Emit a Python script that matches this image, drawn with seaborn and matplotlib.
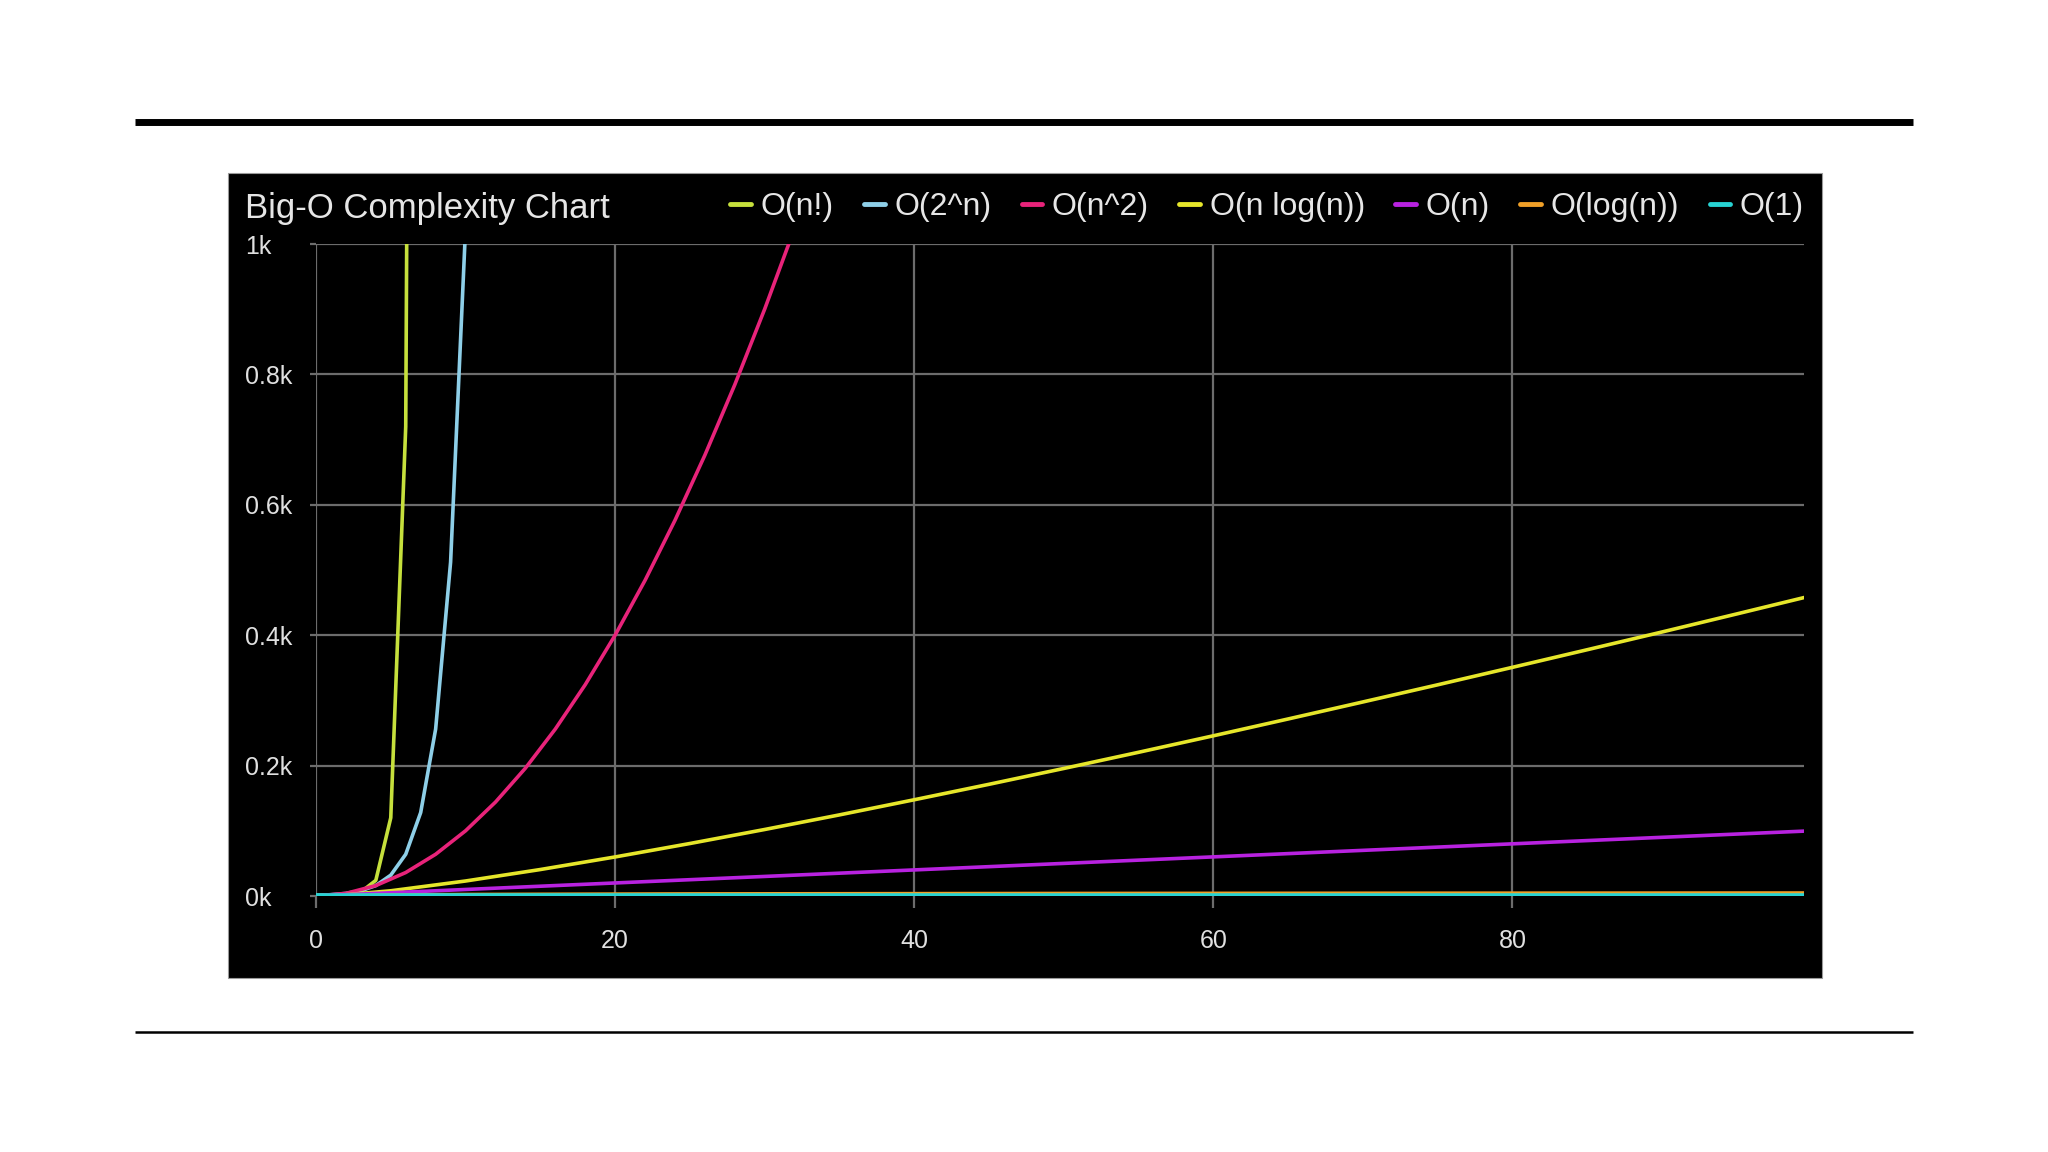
import matplotlib
matplotlib.use("Agg")
import matplotlib.pyplot as plt
import seaborn as sns
import pandas as pd
from matplotlib.patches import Rectangle
from matplotlib.lines import Line2D

# ---- data ----
series_names = ["O(n!)", "O(2^n)", "O(n^2)", "O(n log(n))", "O(n)", "O(log(n))", "O(1)"]
series_colors = ["#c6e03c", "#8ecfe8", "#e8237a", "#e6e62a", "#b822e0", "#f0a028", "#27d3d3"]

fact_x = [0, 1, 2, 3, 4, 5, 6, 7]
fact_y = [1, 1, 2, 6, 24, 120, 720, 5040]

exp_x = [0, 1, 2, 3, 4, 5, 6, 7, 8, 9, 10, 11]
exp_y = [1, 2, 4, 8, 16, 32, 64, 128, 256, 512, 1024, 2048]

sq_x = [0, 2, 4, 6, 8, 10, 12, 14, 16, 18, 20, 22, 24, 26, 28, 30, 32, 34]
sq_y = [0, 4, 16, 36, 64, 100, 144, 196, 256, 324, 400, 484, 576, 676, 784, 900, 1024, 1156]

nlogn_x = [0, 1, 5, 10, 15, 20, 25, 30, 35, 40, 45, 50, 55, 60, 65, 70, 75, 80, 85, 90, 95, 100]
nlogn_y = [0, 0, 8.0, 23.0, 40.6, 59.9, 80.5, 102.0, 124.4, 147.6, 171.3, 195.6, 220.4,
           245.7, 271.5, 297.6, 323.9, 350.7, 377.7, 404.9, 432.6, 460.5]

lin_x = [0, 25, 50, 75, 100]
lin_y = [0, 25, 50, 75, 100]

log_x = [1, 5, 10, 25, 50, 75, 100]
log_y = [0, 1.6, 2.3, 3.2, 3.9, 4.3, 4.6]

const_x = [0, 100]
const_y = [1, 1]

y_ticks = [0, 200, 400, 600, 800, 1000]
y_tick_labels = ["0k", "0.2k", "0.4k", "0.6k", "0.8k", "1k"]
x_ticks = [0, 20, 40, 60, 80]
x_tick_labels = ["0", "20", "40", "60", "80"]
title_text = "Big-O Complexity Chart"

# ---- build long table ----
xs = [fact_x, exp_x, sq_x, nlogn_x, lin_x, log_x, const_x]
ys = [fact_y, exp_y, sq_y, nlogn_y, lin_y, log_y, const_y]
rows = []
for name, xv, yv in zip(series_names, xs, ys):
    for a, b in zip(xv, yv):
        rows.append({"n": a, "ops": b, "series": name})
df = pd.DataFrame(rows)

sns.set_theme(style="dark")
plt.rcParams["font.family"] = ["Liberation Sans", "DejaVu Sans"]

W, H = 2048, 1152
fig = plt.figure(figsize=(W / 100, H / 100), dpi=100)
fig.patch.set_facecolor("white")

# decorative slide rules
fig.add_artist(Line2D([135 / W, 1913 / W], [1 - 121.5 / H, 1 - 121.5 / H], color="black", lw=5.0,
                      transform=fig.transFigure, solid_capstyle="butt"))
fig.add_artist(Line2D([135 / W, 1913 / W], [1 - 1032 / H, 1 - 1032 / H], color="black", lw=1.8,
                      transform=fig.transFigure, solid_capstyle="butt"))

# black panel
fig.add_artist(Rectangle((228 / W, 1 - 978 / H), (1822 - 228) / W, (978 - 173) / H,
                         transform=fig.transFigure, facecolor="black", edgecolor="#9a9a9a",
                         lw=0.8, zorder=0))

ax = fig.add_axes([316 / W, 1 - 896 / H, (1804 - 316) / W, (896 - 244) / H])
ax.set_facecolor("black")
ax.patch.set_alpha(0)

sns.lineplot(data=df, x="n", y="ops", hue="series", hue_order=series_names,
             palette=series_colors, sort=False, estimator=None, lw=2.6, ax=ax, legend=True)
for ln in ax.get_lines()[-2:]:
    ln.set_linewidth(3.4)

ax.set_xlim(0, 99.5)
ax.set_ylim(0, 1000)
ax.set_xticks(x_ticks)
ax.set_xticklabels(x_tick_labels)
ax.set_yticks(y_ticks)
ax.set_yticklabels(y_tick_labels)
ax.set_xlabel("")
ax.set_ylabel("")
for s in ax.spines.values():
    s.set_visible(False)
ax.grid(True, color="#6c6c6c", lw=1.6)
ax.set_axisbelow(True)
ax.tick_params(axis="x", colors="#6c6c6c", labelcolor="#e0e0e0", length=8.5, width=1.6,
               direction="out", pad=15, labelsize=18, bottom=True)
ax.tick_params(axis="y", colors="#6c6c6c", labelcolor="#e0e0e0", length=4, width=1.6,
               direction="out", pad=47, labelsize=18, left=True)
for lbl in ax.get_yticklabels():
    lbl.set_horizontalalignment("left")

ax.text((245 - 316) / (1804 - 316), 1 + (244 - 208) / (896 - 244), title_text,
        transform=ax.transAxes, ha="left", va="center", fontsize=25, color="#e6e6e6")

handles, labels = ax.get_legend_handles_labels()
leg = ax.legend(handles, labels, loc="center right", bbox_to_anchor=(1.0, 1 + (244 - 207) / (896 - 244)),
                ncol=7, frameon=False, fontsize=23, handlelength=0.65, handletextpad=0.3,
                columnspacing=0.95, borderpad=0, borderaxespad=0, labelcolor="#e6e6e6")
for h in leg.legend_handles:
    h.set_linewidth(3.5)

fig.savefig("out.png", dpi=100, facecolor="white")
